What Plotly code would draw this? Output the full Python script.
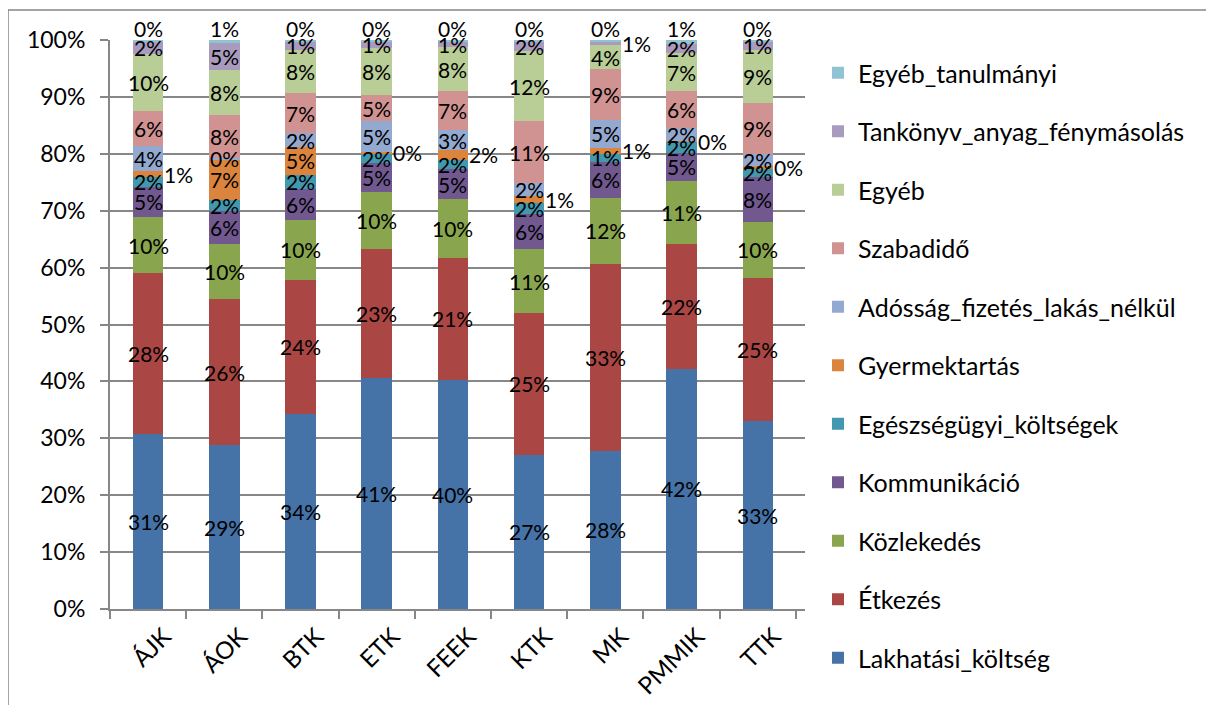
import plotly.graph_objects as go

categories = ["ÁJK", "ÁOK", "BTK", "ETK", "FEEK", "KTK", "MK", "PMMIK", "TTK"]

lakhatasi = [30.7, 28.8, 34.2, 40.6, 40.3, 27.1, 27.8, 42.2, 33.0]
etkezes = [28.3, 25.6, 23.7, 22.6, 21.4, 24.9, 32.8, 21.9, 25.2]
kozlekedes = [9.9, 9.8, 10.4, 10.0, 10.3, 11.2, 11.7, 11.2, 9.9]
kommunikacio = [5.3, 5.7, 5.6, 5.2, 5.3, 6.3, 6.3, 4.9, 7.8]
egeszsegugyi = [1.8, 1.9, 2.4, 1.6, 1.6, 1.8, 1.4, 1.9, 1.6]
gyermektartas = [0.9, 7.2, 4.9, 0.3, 1.8, 1.3, 1.0, 0.2, 0.3]
adossag = [4.4, 0.2, 2.4, 5.4, 3.4, 2.2, 5.0, 2.2, 2.1]
szabadido = [6.2, 7.7, 7.0, 4.6, 6.9, 10.9, 8.9, 6.5, 9.0]
egyeb = [10.0, 7.9, 7.7, 8.3, 7.8, 12.4, 4.2, 6.7, 9.4]
tankonyv = [2.2, 4.6, 1.4, 1.1, 0.8, 1.6, 0.6, 1.6, 1.4]
egyeb_tanulmanyi = [0.3, 0.6, 0.3, 0.3, 0.4, 0.3, 0.3, 0.7, 0.3]

series = [
    ("Lakhatási_költség", lakhatasi, "#4572A7"),
    ("Étkezés", etkezes, "#AA4643"),
    ("Közlekedés", kozlekedes, "#89A54E"),
    ("Kommunikáció", kommunikacio, "#71588F"),
    ("Egészségügyi_költségek", egeszsegugyi, "#4198AF"),
    ("Gyermektartás", gyermektartas, "#DB843D"),
    ("Adósság_fizetés_lakás_nélkül", adossag, "#93A9CF"),
    ("Szabadidő", szabadido, "#D19392"),
    ("Egyéb", egyeb, "#B9CD96"),
    ("Tankönyv_anyag_fénymásolás", tankonyv, "#A99BBD"),
    ("Egyéb_tanulmányi", egyeb_tanulmanyi, "#91C3D5"),
]

# labels drawn beside the bar (right side) instead of inside
beside = {
    ("ÁJK", "Gyermektartás"), ("ETK", "Gyermektartás"), ("FEEK", "Gyermektartás"),
    ("KTK", "Gyermektartás"), ("MK", "Gyermektartás"), ("PMMIK", "Gyermektartás"),
    ("TTK", "Gyermektartás"), ("MK", "Tankönyv_anyag_fénymásolás"),
}
above_series = "Egyéb_tanulmányi"

FONT = "Lato, 'Open Sans', sans-serif"
FS_LABEL = 21
FS_TICK = 23
FS_XTICK = 24
FS_LEGEND = 25
GRID = "#878787"
BAR_GAP = 0.6

# window pixel geometry (page body has an 8px margin)
OFF = 8
W, H = 1214 - 2 * OFF, 713 - 2 * OFF
PX_L, PX_R, PX_T, PX_B = 110, 805, 40, 609
L, T = PX_L - OFF, PX_T - OFF
R = W - (PX_R - OFF)
B = H - (PX_B - OFF)
pw, ph = PX_R - PX_L, PX_B - PX_T

def px_x(p):
    return (p - PX_L) / pw

def px_y(p):
    return 1 - (p - PX_T) / ph

fig = go.Figure()
n = len(series)
for k, (name, vals, color) in enumerate(series):
    fig.add_trace(go.Bar(
        x=categories, y=[v / 100 for v in vals], name=name, legendgroup=name,
        legendrank=n - k,
        marker=dict(color=color, line=dict(width=0)),
    ))

annotations = []
cum = [0.0] * len(categories)
for name, vals, color in series:
    for i, (c, v) in enumerate(zip(categories, vals)):
        lo = cum[i]
        hi = round(lo + v, 6)
        label = f"{v:.0f}%"
        f = dict(family=FONT, size=FS_LABEL, color="black")
        if name == above_series:
            annotations.append(dict(x=i, y=min(hi, 100) / 100, xref="x", yref="y", text=label,
                                    showarrow=False, yanchor="bottom", xanchor="center",
                                    yshift=-3, font=f))
        elif (c, name) in beside:
            annotations.append(dict(x=i + (1 - BAR_GAP) / 2, y=(lo + hi) / 200, xref="x", yref="y",
                                    text=label, showarrow=False, xanchor="left", yanchor="middle",
                                    xshift=-1, font=f))
        else:
            annotations.append(dict(x=i, y=(lo + hi) / 200, xref="x", yref="y", text=label,
                                    showarrow=False, xanchor="center", yanchor="middle", font=f))
        cum[i] = hi

fig.update_layout(
    width=W, height=H,
    margin=dict(l=L, r=R, t=T, b=B, pad=0, autoexpand=False),
    barmode="stack", bargap=BAR_GAP,
    plot_bgcolor="white", paper_bgcolor="white",
    font=dict(family=FONT, size=FS_TICK, color="black"),
    showlegend=True,
    legend=dict(traceorder="grouped", tracegroupgap=23, maxheight=H,
                x=px_x(818), xanchor="left", y=px_y(50), yanchor="top",
                font=dict(family=FONT, size=FS_LEGEND, color="black"),
                itemclick=False, bgcolor="rgba(0,0,0,0)"),
    annotations=annotations,
    shapes=[dict(type="rect", xref="paper", yref="paper",
                 x0=px_x(8), x1=px_x(1260), y0=px_y(760), y1=px_y(10),
                 line=dict(color=GRID, width=1.5), fillcolor="rgba(0,0,0,0)", layer="below")],
)
fig.update_xaxes(showgrid=False, showline=True, linecolor=GRID, linewidth=2, automargin=False,
                 ticks="outside", tickson="boundaries", ticklen=8, tickcolor=GRID, tickwidth=1.5,
                 tickangle=-45, ticklabelshift=16, ticklabelstandoff=2,
                 tickfont=dict(family=FONT, size=FS_XTICK, color="black"))
fig.update_yaxes(range=[0, 1], dtick=0.1, tickformat=".0%", showgrid=True, gridcolor=GRID,
                 gridwidth=2, showline=True, linecolor=GRID, linewidth=2, ticks="outside",
                 ticklen=8, tickcolor=GRID, tickwidth=1.5, zeroline=False, automargin=False,
                 ticklabelstandoff=10,
                 tickfont=dict(family=FONT, size=FS_TICK, color="black"))

fig.write_html("out.html")
